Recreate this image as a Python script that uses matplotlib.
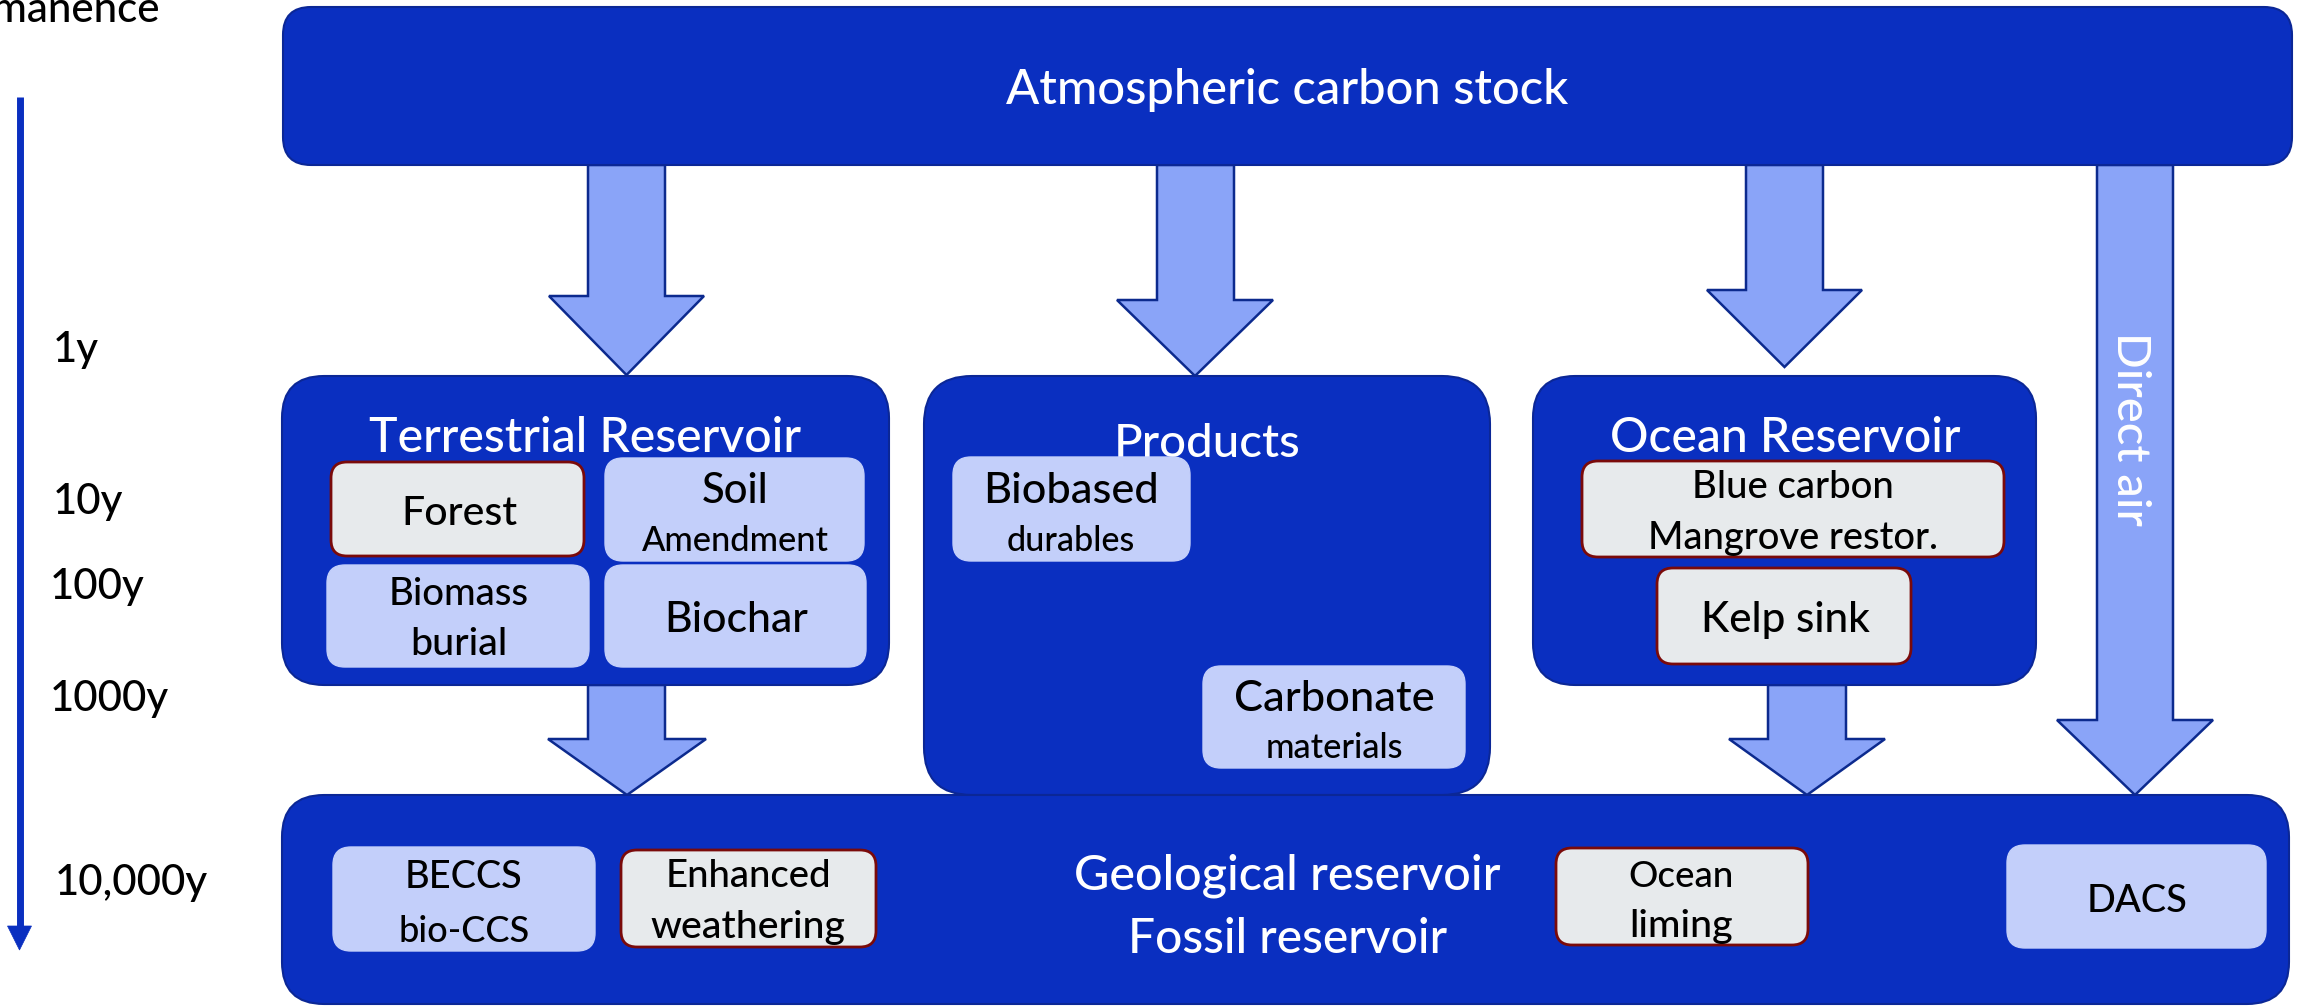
import matplotlib
matplotlib.use("Agg")
import matplotlib.pyplot as plt
from matplotlib.patches import FancyBboxPatch, Polygon

# ---------------- content (labels) ----------------
axis_title = "Permanence"
year_labels = ["1y", "10y", "100y", "1000y", "10,000y"]
atmosphere_title = "Atmospheric carbon stock"
reservoir_titles = ["Terrestrial Reservoir", "Products", "Ocean Reservoir"]
geo_title_lines = ["Geological reservoir", "Fossil reservoir"]
direct_air_label = "Direct air"
terrestrial_items = [("Forest", ""), ("Soil", "Amendment"), ("Biomass", "burial"), ("Biochar", "")]
product_items = [("Biobased", "durables"), ("Carbonate", "materials")]
ocean_items = [("Blue carbon", "Mangrove restor."), ("Kelp sink", "")]
geo_items = [("BECCS", "bio-CCS"), ("Enhanced", "weathering"), ("Ocean", "liming"), ("DACS", "")]

# ---------------- styles ----------------
DARK = "#0A2FC0"
DARK_EDGE = "#0B2796"
ARROW_FC = "#8AA4F8"
ARROW_EC = "#0C2A8E"
LIGHT = "#C3CFFA"
GREY = "#E7EAEC"
RED_EDGE = "#7A0A0A"
FONT = ["Lato", "DejaVu Sans"]
WEIGHT = 500

W, H = 2300, 1006
fig = plt.figure(figsize=(W / 100, H / 100), dpi=100)
ax = fig.add_axes([0, 0, 1, 1])
ax.set_xlim(0, W)
ax.set_ylim(H, 0)
ax.axis("off")
renderer = fig.canvas.get_renderer()


def rbox(box, r, fc, ec, lw, z):
    x0, y0, x1, y1 = box
    ax.add_patch(FancyBboxPatch((x0, y0), x1 - x0, y1 - y0,
                                boxstyle=f"round,pad=0,rounding_size={r}",
                                fc=fc, ec=ec, lw=lw, zorder=z))


def arrow(spec):
    sx0, sx1, top, hy, hx0, hx1, tip = spec
    cx = (hx0 + hx1) / 2
    pts = [(sx0, top), (sx1, top), (sx1, hy), (hx1, hy), (cx, tip), (hx0, hy), (sx0, hy)]
    ax.add_patch(Polygon(pts, closed=True, fc=ARROW_FC, ec=ARROW_EC, lw=1.8,
                         joinstyle="miter", zorder=1))


def fit_text(s, x, y, width, ha="center", color="black", rotation=0, z=6, size=None):
    t = ax.text(x, y, s, fontsize=20, family=FONT, weight=WEIGHT, color=color, ha=ha,
                va="baseline", zorder=z)
    if size is None:
        w = t.get_window_extent(renderer=renderer).width
        size = 20 * width / w
    t.set_fontsize(size)
    if rotation:
        t.set_rotation(rotation)
        t.set_rotation_mode("anchor")
    return size


# ---------------- layout ----------------
big_boxes = {
    "atm": ((283, 7, 2292, 165), 28),
    "terr": ((282, 376, 889, 685), 42),
    "prod": ((924, 376, 1490, 795), 48),
    "ocean": ((1533, 376, 2036, 685), 42),
    "geo": ((282, 795, 2289, 1004), 42),
}
arrows = [
    (588, 665, 165, 296, 549, 704, 375),
    (1157, 1234, 165, 300, 1117, 1273, 376),
    (1746, 1823, 165, 290, 1707, 1862, 367),
    (588, 665, 685, 739, 548, 706, 795),
    (1768, 1846, 685, 739, 1729, 1885, 795),
    (2097, 2173, 165, 720, 2057, 2213, 795),
]

# sub-box geometry: box, kind, (cx, baseline1, width1), (baseline2, width2)
terr_layout = [
    ((331, 462, 584, 556), "grey", (459, 525, 116), None),
    ((605, 458, 864, 561), "light", (735, 503, 67), (551, 187)),
    ((327, 565, 589, 667), "light", (459, 605, 140), (655, 97)),
    ((605, 565, 866, 667), "light", (736, 632, 144), None),
]
prod_layout = [
    ((953, 457, 1190, 561), "light", (1071, 503, 175), (551, 128)),
    ((1203, 666, 1465, 768), "light", (1334, 711, 200), (758, 138)),
]
ocean_layout = [
    ((1582, 461, 2004, 557), "grey", (1793, 498, 202), (549, 291)),
    ((1657, 568, 1911, 664), "grey", (1785, 632, 169), None),
]
geo_layout = [
    ((333, 847, 595, 951), "light", (464, 888, 118), (942, 131)),
    ((621, 850, 876, 947), "grey", (748, 887, 166), (938, 195)),
    ((1556, 848, 1808, 945), "grey", (1681, 887, 105), (937, 104)),
    ((2007, 845, 2266, 948), "light", (2137, 912, 101), None),
]

# ---------------- draw ----------------
for spec in arrows:
    arrow(spec)

for box, r in big_boxes.values():
    rbox(box, r, DARK, DARK_EDGE, 1.5, 2)

# titles
fit_text(atmosphere_title, 1287, 104, 562, color="white", z=3)
for title, (cx, base, w) in zip(reservoir_titles, [(585, 452, 433), (1207, 457, 187), (1785, 452, 351)]):
    fit_text(title, cx, base, w, color="white", z=3)
for line, (cx, base, w) in zip(geo_title_lines, [(1287, 890, 429), (1288, 953, 319)]):
    fit_text(line, cx, base, w, color="white", z=3)
fit_text(direct_air_label, 2117, 429, 194, color="white", rotation=-90, z=3)

# sub boxes
for items, layout in [(terrestrial_items, terr_layout), (product_items, prod_layout),
                      (ocean_items, ocean_layout), (geo_items, geo_layout)]:
    for (l1, l2), (box, kind, first, second) in zip(items, layout):
        if kind == "grey":
            rbox(box, 16, GREY, RED_EDGE, 2.0, 4)
        else:
            rbox(box, 18, LIGHT, LIGHT, 1.0, 4)
        cx, b1, w1 = first
        fit_text(l1, cx, b1, w1)
        if l2 and second is not None:
            b2, w2 = second
            fit_text(l2, cx, b2, w2)

# permanence axis
ax.plot([19.5, 19.5], [97, 928], color=DARK, lw=5, solid_capstyle="butt", zorder=2)
ax.add_patch(Polygon([(7.5, 926), (31.5, 926), (19.5, 950)], closed=True,
                     fc=DARK, ec=DARK, lw=0.5, zorder=2))
ysize = fit_text(year_labels[-1], 55, 895, 152, ha="left")
year_pos = [(53, 362), (53, 514), (50, 599), (50, 711)]
for lab, (x, b) in zip(year_labels[:-1], year_pos):
    fit_text(lab, x, b, None, ha="left", size=ysize)
fit_text(axis_title, 160, 22, None, ha="right", size=ysize)

fig.savefig("out.png", dpi=100)
